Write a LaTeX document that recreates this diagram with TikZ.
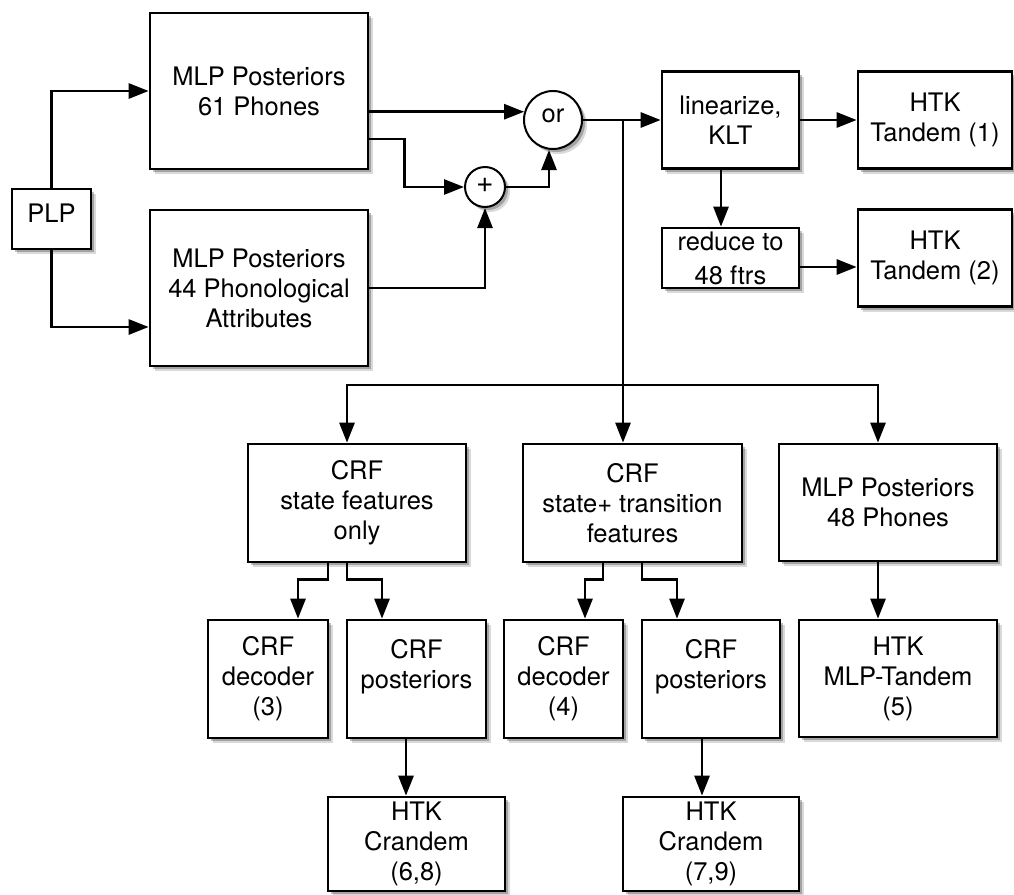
\documentclass[tikz,border=0pt]{standalone}
\usepackage{fontspec}
\setmainfont{TeX Gyre Heros}
\usetikzlibrary{arrows.meta,shadows}
\begin{document}
\begin{tikzpicture}[x=1pt,y=-1pt,
  shad/.style={drop shadow={shadow xshift=5pt,shadow yshift=-5pt,opacity=.15,fill=black},
               drop shadow={shadow xshift=3pt,shadow yshift=-3pt,opacity=.25,fill=black}},
  box/.style={draw,line width=2.7pt,fill=white,inner sep=0pt,align=center,
              font=\fontsize{25.5}{30}\selectfont,shad},
  circ/.style={draw,circle,line width=2pt,fill=white,inner sep=0pt,
              font=\fontsize{25.5}{30}\selectfont,shad},
  conn/.style={line width=2.7pt},
  arr/.style={conn,-{Triangle[length=20pt,width=15pt]}}]
\useasboundingbox (0,0) rectangle (1014,894);

% nodes
\node[box,minimum width=79pt,minimum height=60pt] (plp) at (51.5,219) {\raisebox{12pt}{PLP}};
\node[box,minimum width=218pt,minimum height=156pt] (m61) at (259,91) {MLP Posteriors\\61 Phones};
\node[box,minimum width=218pt,minimum height=156pt] (m44) at (259,288) {MLP Posteriors\\44 Phonological\\Attributes};
\node[circ,minimum size=40pt,font=\fontsize{30}{30}\selectfont] (plus) at (485,187) {\raisebox{3pt}{+}};
\node[circ,minimum size=58pt] (orc) at (553,120) {\raisebox{8pt}{or}};
\node[box,minimum width=137pt,minimum height=97pt] (lin) at (730.5,120) {linearize,\\KLT};
\node[box,minimum width=154pt,minimum height=97pt] (t1) at (935,120) {HTK\\Tandem (1)};
\node[box,minimum width=137pt,minimum height=60pt] (red) at (730.5,258) {\raisebox{4pt}{reduce to}\\48 ftrs};
\node[box,minimum width=154pt,minimum height=97pt] (t2) at (935,258) {HTK\\Tandem (2)};
\node[box,minimum width=218pt,minimum height=118pt] (crf1) at (357,503) {CRF\\state features\\only};
\node[box,minimum width=219pt,minimum height=118pt] (crf2) at (632.5,503) {CRF\\state+ transition\\features};
\node[box,minimum width=218pt,minimum height=117pt] (m48) at (888,502.5) {MLP Posteriors\\48 Phones};
\node[box,minimum width=120pt,minimum height=118pt] (d3) at (268,679) {CRF\\decoder\\(3)};
\node[box,minimum width=139pt,minimum height=118pt] (p1) at (416.5,679) {CRF\\posteriors\\\mbox{}};
\node[box,minimum width=119pt,minimum height=118pt] (d4) at (563.5,679) {CRF\\decoder\\(4)};
\node[box,minimum width=138pt,minimum height=118pt] (p2) at (711,679) {CRF\\posteriors\\\mbox{}};
\node[box,minimum width=198pt,minimum height=117pt] (mt) at (898,678.5) {HTK\\MLP-Tandem\\(5)};
\node[box,minimum width=177pt,minimum height=94pt] (c68) at (416.5,844) {HTK\\Crandem\\(6,8)};
\node[box,minimum width=176pt,minimum height=94pt] (c79) at (711,844) {HTK\\Crandem\\(7,9)};

% connectors
\draw[arr] (plp.north) |- (m61.west);
\draw[arr] (plp.south) |- ([yshift=-39pt]m44.west);
\draw[arr] (m61.east |- orc.164) -- (orc.164);
\draw[arr] ([yshift=-48pt]m61.east) -- ++(35,0) |- (plus.west);
\draw[arr] (m44.east) -| (plus.south);
\draw[arr] (plus.east) -| ([xshift=-4pt]orc.south);
\draw[arr] (orc.east) -- (lin.west);
\draw[arr] (lin.east) -- (t1.west);
\draw[arr] ([xshift=-9.5pt]lin.south) -- ([xshift=-9.5pt]red.north);
\coordinate (r1) at ([yshift=-9pt]red.east);
\draw[arr] (r1) -- (r1 -| t2.west);

\coordinate (J) at (623,120);
\coordinate (B) at (623,385);
\draw[arr] (J) -- (crf2.north -| J);
\draw[arr] (B) -| ([xshift=-10pt]crf1.north);
\draw[arr] (B) -| ([xshift=-10pt]m48.north);

\draw[arr] ([xshift=-29pt]crf1.south) -- ++(0,16) -| ([xshift=30pt]d3.north);
\draw[arr] ([xshift=-10pt]crf1.south) -- ++(0,16) -| ([xshift=-34.5pt]p1.north);
\draw[arr] ([xshift=-29.5pt]crf2.south) -- ++(0,16) -| ([xshift=21.5pt]d4.north);
\draw[arr] ([xshift=9.5pt]crf2.south) -- ++(0,16) -| ([xshift=-34pt]p2.north);
\draw[arr] ([xshift=-10.5pt]p1.south) -- ([xshift=-10.5pt]c68.north);
\draw[arr] ([xshift=-9pt]p2.south) -- ([xshift=-9pt]c79.north);
\draw[arr] ([xshift=-10pt]m48.south) -- ([xshift=-20pt]mt.north);
\end{tikzpicture}
\end{document}
